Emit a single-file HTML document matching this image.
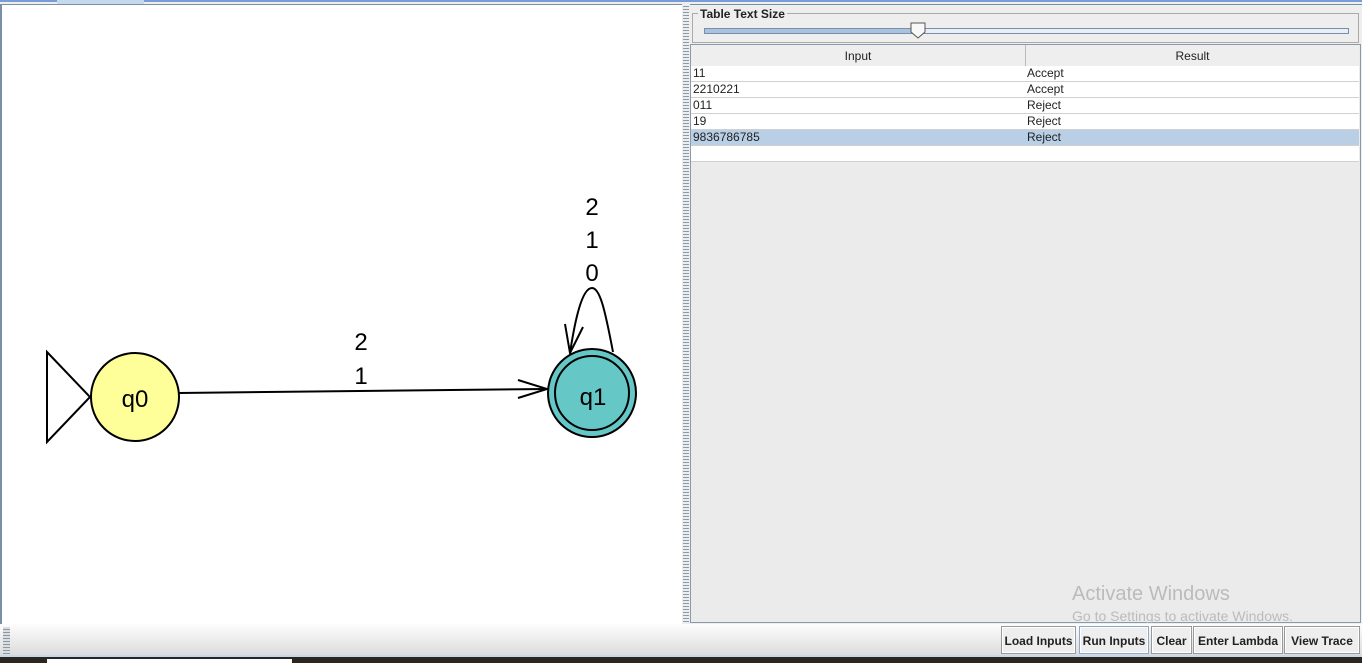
<!DOCTYPE html>
<html><head><style>
body{margin:0;width:1362px;height:663px;position:relative;overflow:hidden;background:#eeeeee;font-family:"Liberation Sans",sans-serif;}
.a{position:absolute;}
.cell{position:absolute;font-size:12px;color:#222;line-height:15px;padding-left:2px;box-sizing:border-box;border-bottom:1px solid #d0d0d0;height:16px;}
.btn{position:absolute;top:626px;height:28px;border:1px solid #999;background:#eeeeee;font-size:12px;font-weight:bold;color:#222;text-align:center;line-height:28px;box-sizing:border-box;box-shadow:inset 0 0 0 1px #fff;}
</style></head><body>
<div class="a" style="left:0;top:0;width:1362px;height:2px;background:#7a9cd6"></div>
<div class="a" style="left:57px;top:0;width:87px;height:4px;background:#c4d8ee"></div>
<div class="a" style="left:0;top:4px;width:682px;height:620px;background:#fff;border-left:2px solid #7a8ea6;border-top:1px solid #7a8ea6;box-sizing:border-box"></div>
<div class="a" style="left:683px;top:4px;width:6px;height:620px;background:repeating-linear-gradient(#eee 0,#eee 2px,#8899aa 2px,#8899aa 3px)"></div>
<svg class="a" style="left:0;top:0" width="682" height="624">
<polygon points="47,352 90,397 47,442" fill="#fff" stroke="#000" stroke-width="2"/>
<circle cx="135" cy="397" r="44" fill="#ffff99" stroke="#000" stroke-width="2"/>
<text x="135" y="407" font-size="24" text-anchor="middle" font-family="Liberation Sans">q0</text>
<line x1="179" y1="393" x2="547" y2="389" stroke="#000" stroke-width="2"/>
<polyline points="518,380 547,389 518,398" fill="none" stroke="#000" stroke-width="2"/>
<text x="361" y="350" font-size="24" text-anchor="middle" font-family="Liberation Sans">2</text>
<text x="361" y="384" font-size="24" text-anchor="middle" font-family="Liberation Sans">1</text>
<circle cx="592" cy="393" r="44" fill="#66c7c7" stroke="#000" stroke-width="2"/>
<circle cx="592" cy="393" r="37" fill="none" stroke="#000" stroke-width="2"/>
<text x="593" y="405" font-size="24" text-anchor="middle" font-family="Liberation Sans">q1</text>
<path d="M613,352 C605,310 600,288 592,288 C582,288 575,320 570,353" fill="none" stroke="#000" stroke-width="2"/>
<polyline points="565,324 570,353 583,327" fill="none" stroke="#000" stroke-width="2"/>
<text x="592" y="215" font-size="24" text-anchor="middle" font-family="Liberation Sans">2</text>
<text x="592" y="248" font-size="24" text-anchor="middle" font-family="Liberation Sans">1</text>
<text x="592" y="281" font-size="24" text-anchor="middle" font-family="Liberation Sans">0</text>
</svg>
<div class="a" style="left:690px;top:4px;width:672px;height:1px;background:#7a8ea6"></div>
<div class="a" style="left:692px;top:13px;width:665px;height:28px;border:1px solid #aaa"></div>
<div class="a" style="left:698px;top:7px;font-size:12px;font-weight:bold;color:#222;background:#eee;padding:0 2px">Table Text Size</div>
<div class="a" style="left:704px;top:28px;width:643px;height:4px;border:1px solid #7a8ea6;background:linear-gradient(90deg,#a9c2e0 0,#a9c2e0 33%,#e8eef6 33%)"></div>
<svg class="a" style="left:910px;top:22px" width="18" height="18"><polygon points="1,1 15,1 15,10 8,16 1,10" fill="#f8f8f8" stroke="#555"/></svg>
<div class="a" style="left:690px;top:44px;width:671px;height:579px;border:1px solid #8a9aaa;background:#ebebeb;box-sizing:border-box"></div>
<div class="a" style="left:691px;top:45px;width:668px;height:21px;background:#eee;border-bottom:1px solid #999"></div>
<div class="a" style="left:1025px;top:45px;width:1px;height:117px;background:#bbb"></div>
<div class="a" style="left:691px;top:49px;width:334px;text-align:center;font-size:12px;color:#222">Input</div>
<div class="a" style="left:1026px;top:49px;width:333px;text-align:center;font-size:12px;color:#222">Result</div>
<div class="a" style="left:691px;top:66px;width:668px;height:96px;background:#fff"></div>
<div class="a" style="left:691px;top:130px;width:668px;height:16px;background:#b8cfe5"></div>
<div class="cell" style="left:691px;top:66px;width:334px">11</div><div class="cell" style="left:1025px;top:66px;width:334px">Accept</div>
<div class="cell" style="left:691px;top:82px;width:334px">2210221</div><div class="cell" style="left:1025px;top:82px;width:334px">Accept</div>
<div class="cell" style="left:691px;top:98px;width:334px">011</div><div class="cell" style="left:1025px;top:98px;width:334px">Reject</div>
<div class="cell" style="left:691px;top:114px;width:334px">19</div><div class="cell" style="left:1025px;top:114px;width:334px">Reject</div>
<div class="cell" style="left:691px;top:130px;width:334px">9836786785</div><div class="cell" style="left:1025px;top:130px;width:334px">Reject</div>
<div class="cell" style="left:691px;top:146px;width:334px"></div><div class="cell" style="left:1025px;top:146px;width:334px"></div>
<div class="a" style="left:1072px;top:583px;font-size:20px;color:#bbb">Activate Windows</div>
<div class="a" style="left:1072px;top:608px;font-size:14px;color:#bbb;height:15px;overflow:hidden">Go to Settings to activate Windows.</div>
<div class="a" style="left:0;top:624px;width:1362px;height:33px;background:linear-gradient(#fdfdfd,#dcdcdc);border-bottom:2px solid #c4d8ee;box-sizing:border-box"></div>
<div class="a" style="left:3px;top:627px;width:7px;height:27px;background:repeating-linear-gradient(#ddd 0,#ddd 2px,#8899aa 2px,#8899aa 3px)"></div>
<div class="btn" style="left:1001px;width:75px">Load Inputs</div>
<div class="btn" style="left:1079px;width:70px;border-color:#8aa8cc">Run Inputs</div>
<div class="btn" style="left:1151px;width:41px">Clear</div>
<div class="btn" style="left:1193px;width:90px">Enter Lambda</div>
<div class="btn" style="left:1284px;width:76px">View Trace</div>
<div class="a" style="left:0;top:657px;width:1362px;height:6px;background:#2b2620"></div>
<div class="a" style="left:47px;top:659px;width:245px;height:4px;background:#fff"></div>
</body></html>
